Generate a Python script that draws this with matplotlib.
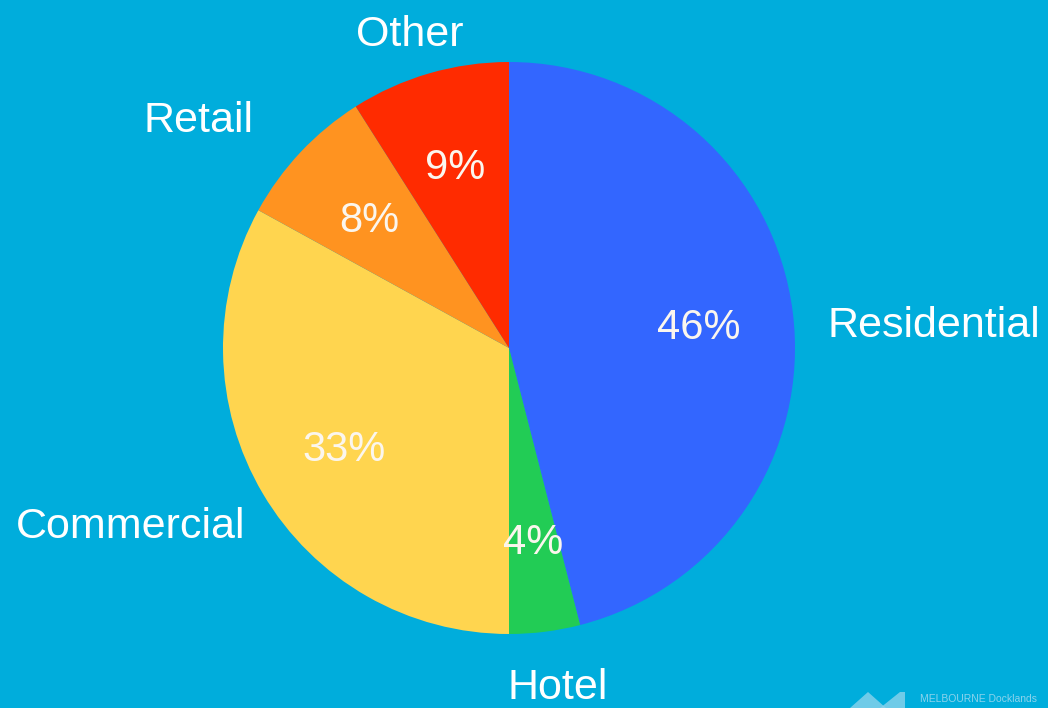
import numpy as np
import matplotlib.pyplot as plt
from matplotlib.patches import Polygon

# Melbourne Docklands land use mix
categories = ["Residential", "Hotel", "Commercial", "Retail", "Other"]
shares = [46, 4, 33, 8, 9]
colors = ["#3366FF", "#22CC55", "#FFD54F", "#FF9320", "#FF2B00"]

# outer label placement: distance (radii), angle nudge (deg, clockwise), alignment
label_dist = [1.119, 1.185, 1.106, 1.206, 1.164]
label_nudge = [2.5, -1.0, -2.8, -1.1, -1.1]
label_ha = ["left", "center", "right", "right", "center"]

bg = "#00ADDC"

plt.rcParams["font.family"] = ["Liberation Sans", "DejaVu Sans"]

fig = plt.figure(figsize=(10.48, 7.08), dpi=100)
fig.patch.set_facecolor(bg)
ax = fig.add_axes([0, 0, 1, 1])
ax.set_facecolor(bg)

wedges, texts, autotexts = ax.pie(
    shares,
    colors=colors,
    startangle=90,
    counterclock=False,
    radius=1.0,
    autopct="%d%%",
    pctdistance=0.67,
    wedgeprops=dict(linewidth=0),
    textprops=dict(color="#FBF6EE", fontsize=30),
)
for t in autotexts:
    t.set_va("center_baseline")

# pie() resets the limits, so set them afterwards
r_px = 286.0
cx, cy = 509.0, 348.0
ax.set_xlim(-cx / r_px, (1048 - cx) / r_px)
ax.set_ylim(-(708 - cy) / r_px, cy / r_px)
ax.set_aspect("auto")
ax.axis("off")

for w, name, d, nudge, ha in zip(wedges, categories, label_dist, label_nudge, label_ha):
    mid = np.deg2rad((w.theta1 + w.theta2) / 2 - nudge)
    ax.text(d * np.cos(mid), d * np.sin(mid), name, ha=ha, va="center_baseline",
            color="white", fontsize=31)

# faint watermark bottom right
logo = "#8CD3EC"
fig.patches.append(Polygon([[850, 0], [868, 16], [886, 0]], closed=True,
                           transform=None, facecolor=logo, edgecolor="none", alpha=0.8))
fig.patches.append(Polygon([[880, 0], [900, 16], [905, 16], [905, 0]], closed=True,
                           transform=None, facecolor=logo, edgecolor="none", alpha=0.8))
fig.text(920 / 1048, 4 / 708, "MELBOURNE Docklands", color=logo,
         fontsize=7.5, ha="left", va="bottom")

fig.savefig("out.png", dpi=100, facecolor=bg)
